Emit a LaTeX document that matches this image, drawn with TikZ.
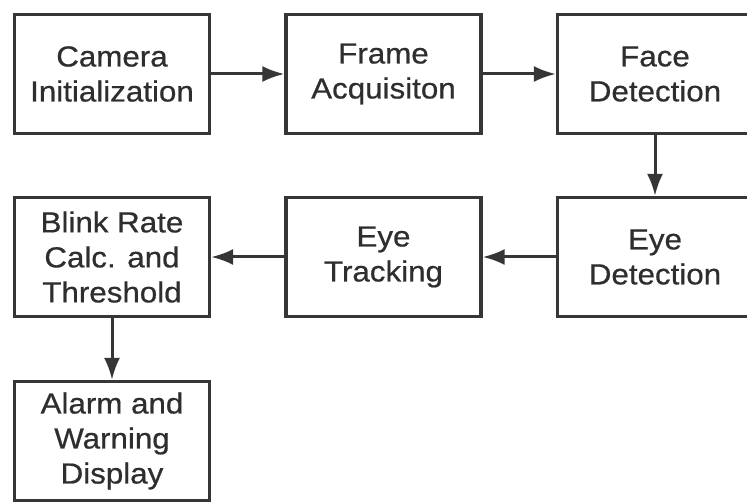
\documentclass[tikz,border=0pt]{standalone}
\usepackage{fontspec}
\setmainfont{Liberation Sans}[FakeStretch=1.08,FakeBold=0.6]
\usetikzlibrary{arrows.meta}
\definecolor{ink}{HTML}{363636}
\definecolor{txt}{HTML}{2E2E2E}
\begin{document}
\begin{tikzpicture}[x=1pt,y=-1pt,
  stepbox/.style={draw=ink,line width=3.2pt,fill=white,minimum width=195pt,minimum height=119pt,
    align=center,text=txt,font=\fontsize{29}{35}\selectfont,inner sep=0pt},
  flow/.style={draw=ink,line width=3pt,-{Latex[length=22pt,width=16pt]}}]
\useasboundingbox (0,0) rectangle (747,502);
\clip (0,0) rectangle (747,502);
\node[stepbox] (cam) at (112,74) {Camera\\Initialization};
\node[stepbox] (frame) at (383.5,74) {Frame\\Acquisiton};
\node[stepbox] (face) at (655,74) {Face\\Detection};
\node[stepbox] (eyed) at (655,257) {Eye\\Detection};
\node[stepbox] (track) at (383.5,257) {Eye\\Tracking};
\node[stepbox] (blink) at (112,257) {Blink Rate\\Calc. and\\Threshold};
\node[stepbox] (alarm) at (112,441) {Alarm and\\Warning\\Display};
\draw[flow] (cam) -- (frame);
\draw[flow] (frame) -- (face);
\draw[flow] (face) -- (eyed);
\draw[flow] (eyed) -- (track);
\draw[flow] (track) -- (blink);
\draw[flow] (blink) -- (alarm);
\end{tikzpicture}
\end{document}
